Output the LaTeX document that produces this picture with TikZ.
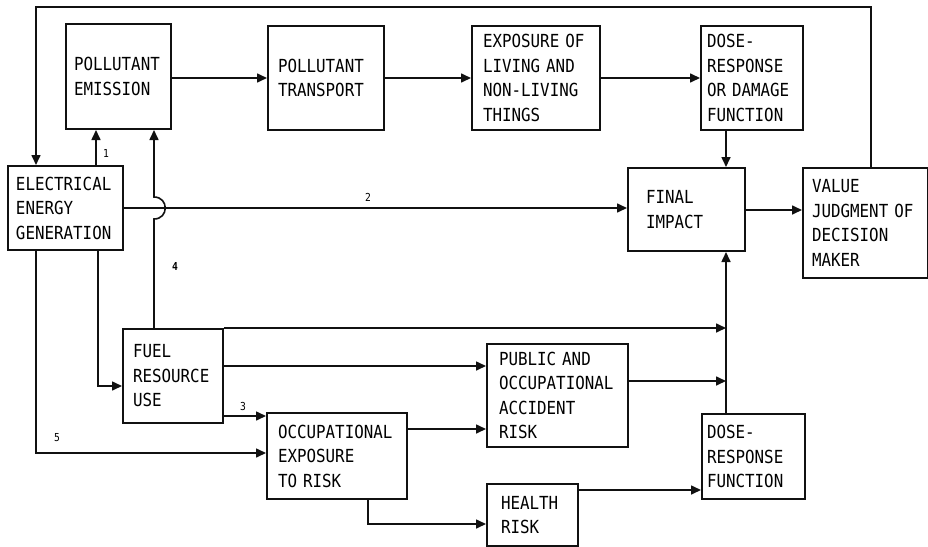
\documentclass[tikz,border=0pt]{standalone}
\usepackage{fontspec}
\usepackage{tikz}
\usetikzlibrary{
  arrows.meta,
  positioning,
  calc
}
\newfontfamily\plotfont[FakeStretch=0.88]{DejaVu Sans Mono}
\definecolor{eiInk}{HTML}{111111}
\tikzset{
  blk/.style={
    draw=eiInk, line width=2pt, anchor=north west, align=left,
    inner xsep=8pt, inner ysep=0pt,
    font=\plotfont\fontsize{18}{24.5}\selectfont
  },
  flow/.style={-{Triangle[length=10pt,width=9pt]}, line width=1.6pt, eiInk},
  num/.style={font=\plotfont\fontsize{11}{12}\selectfont, inner sep=1pt}
}
\begin{document}
\begin{tikzpicture}[x=1pt, y=-1pt]
  \useasboundingbox (0,0) rectangle (928,546);
  % boxes
  \node[blk, text width=89pt, minimum height=105pt] (emis) at (65,23) {POLLUTANT\\EMISSION};
  \node[blk, text width=96pt, inner xsep=10pt, minimum height=104pt] (trans) at (267,25) {POLLUTANT\\TRANSPORT};
  \node[blk, text width=106pt, inner xsep=11pt, minimum height=104pt] (expo) at (471,25) {EXPOSURE OF\\LIVING AND\\NON-LIVING\\THINGS};
  \node[blk, text width=90pt, inner xsep=6pt, minimum height=104pt] (dosedmg) at (700,25) {DOSE-\\RESPONSE\\OR DAMAGE\\FUNCTION};
  \node[blk, text width=99pt, minimum height=84pt] (elec) at (7,165) {ELECTRICAL\\ENERGY\\GENERATION};
  \node[blk, text width=81pt, inner xsep=18pt, minimum height=83pt] (final) at (627,167) {FINAL\\IMPACT};
  \node[blk, text width=107pt, inner xsep=9pt, minimum height=110pt] (value) at (802,167) {VALUE\\JUDGMENT OF\\DECISION\\MAKER};
  \node[blk, text width=80pt, inner xsep=10pt, minimum height=94pt] (fuel) at (122,328) {FUEL\\RESOURCE\\USE};
  \node[blk, text width=118pt, inner xsep=11pt, minimum height=86pt] (occ) at (266,412) {OCCUPATIONAL\\EXPOSURE\\TO RISK};
  \node[blk, text width=117pt, inner xsep=12pt, minimum height=103pt] (pub) at (486,343) {PUBLIC AND\\OCCUPATIONAL\\ACCIDENT\\RISK};
  \node[blk, text width=63pt, inner xsep=14pt, minimum height=62pt] (health) at (486,483) {HEALTH\\RISK};
  \node[blk, text width=93pt, inner xsep=5pt, minimum height=85pt] (dosefn) at (701,413) {DOSE-\\RESPONSE\\FUNCTION};
  \coordinate (colx) at (726,300);
  \coordinate (loop) at ([xshift=29pt]elec.north west |- 0,7);
  % pollutant chain
  \draw[flow] (emis.east |- trans.west) -- (trans.west);
  \draw[flow] (trans.east) -- (expo.west);
  \draw[flow] (expo.east) -- (dosedmg.west);
  \draw[flow] (dosedmg.south -| colx) -- (final.north -| colx);
  \draw[flow] ([yshift=-0.5pt]final.east) -- ([yshift=-0.5pt]final.east -| value.west);
  % feedback loop
  \draw[flow] ([xshift=69pt]value.north west) |- (loop) -- (loop |- elec.north);
  % paths out of generation
  \draw[flow] ([xshift=89pt]elec.north west) coordinate (p1) -- (p1 |- emis.south);
  \node[num] (n1) at (106,153) {1};
  \draw[flow] (elec.east) -- (elec.east -| final.west);
  \node[num] (n2) at (368,197) {2};
  \draw[flow] ([xshift=91pt]elec.south west) |- ([yshift=-10pt]fuel.west);
  \draw[flow] ([xshift=29pt]elec.south west) |- ([yshift=3pt]occ.west);
  \node[num] (n5) at (57,438) {5};
  % fuel use
  \draw[flow] ([xshift=32pt]fuel.north west) coordinate (p4)
    -- ([yshift=-11pt]p4 |- elec.east)
    .. controls +(15pt,0) and +(15pt,0) .. ([yshift=11pt]p4 |- elec.east)
    -- (p4 |- emis.south);
  \node[num, font=\plotfont\fontsize{11}{12}\selectfont\bfseries] (n4) at (175,266) {4};
  \draw[flow] ([yshift=-4pt]occ.north west -| fuel.east) -- ([yshift=-4pt]occ.north west);
  \node[num] (n3) at (243,406) {3};
  \draw[flow] (fuel.north east) -- (fuel.north east -| colx);
  \draw[flow] ([yshift=10pt]fuel.east) -- ([yshift=10pt]fuel.east -| pub.west);
  % risks
  \draw[flow] ([yshift=27pt]occ.east) -- ([yshift=27pt]occ.east -| pub.west);
  \draw[flow] ([yshift=14.5pt]pub.east) -- ([yshift=14.5pt]pub.east -| colx);
  \draw[flow] ([xshift=102pt]occ.south west) |- ([yshift=-9pt]health.west);
  \draw[flow] ([yshift=25pt]health.east) -- ([yshift=25pt]health.east -| dosefn.west);
  \draw[flow] (dosefn.north -| colx) -- (final.south -| colx);
\end{tikzpicture}
\end{document}
